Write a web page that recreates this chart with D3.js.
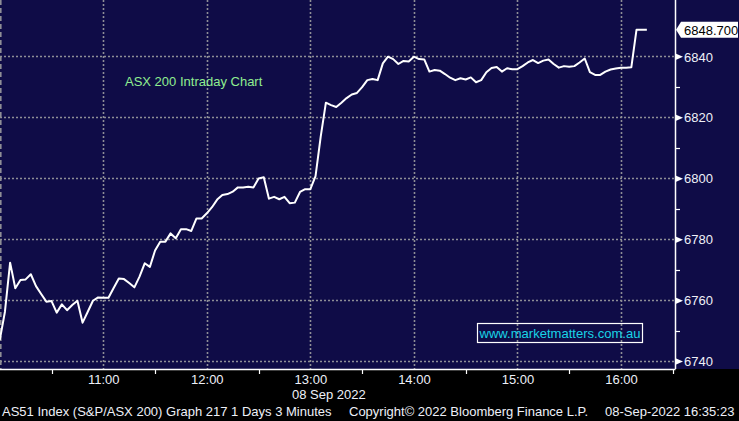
<!DOCTYPE html>
<html>
<head>
<meta charset="utf-8">
<script src="https://cdn.jsdelivr.net/npm/d3@7"></script>
<style>
  html, body { margin: 0; padding: 0; background: #000; }
  svg { display: block; }
  text { font-family: "Liberation Sans", Arial, sans-serif; }
</style>
</head>
<body>
<svg id="chart" width="739" height="421"></svg>
<script>
// ---- data ----
const chartTitle = "ASX 200 Intraday Chart";
const sessionStart = "2022-09-08T10:00:00";
const intervalMinutes = 3;
const prices = [
  6746.9, 6756.2, 6772.3, 6763.9, 6766.6, 6766.8, 6768.5, 6764.6, 6762.0, 6759.5,
  6759.7, 6755.9, 6758.6, 6756.7, 6758.4, 6759.8, 6752.6, 6756.2, 6759.8, 6760.9,
  6760.8, 6760.8, 6764.0, 6767.1, 6766.9, 6765.6, 6764.2, 6767.7, 6772.1, 6770.9,
  6776.3, 6779.2, 6779.2, 6781.9, 6780.3, 6783.3, 6783.3, 6782.7, 6786.8, 6786.8,
  6788.5, 6790.5, 6793.0, 6794.5, 6794.8, 6795.6, 6797.0, 6797.0, 6797.2, 6797.0,
  6799.9, 6800.3, 6793.3, 6793.9, 6793.1, 6793.9, 6791.8, 6792.0, 6795.5, 6796.4,
  6796.4, 6800.7, 6813.7, 6824.8, 6824.0, 6823.4, 6824.8, 6826.3, 6827.5, 6828.0,
  6829.9, 6832.2, 6832.6, 6832.2, 6837.7, 6839.9, 6839.1, 6837.5, 6838.5, 6838.3,
  6839.9, 6839.1, 6839.0, 6835.0, 6835.5, 6835.3, 6834.2, 6833.0, 6832.2, 6832.8,
  6832.4, 6833.1, 6831.5, 6832.2, 6834.8, 6836.2, 6836.5, 6835.0, 6836.1, 6835.8,
  6835.8, 6836.8, 6838.0, 6838.8, 6837.8, 6838.6, 6839.0, 6837.5, 6836.3, 6836.8,
  6836.6, 6836.8, 6838.0, 6839.3, 6834.8, 6833.9, 6833.9, 6835.0, 6835.7, 6836.0,
  6836.3, 6836.3, 6836.4, 6848.7, 6848.7, 6848.7
];
const lastValueLabel = "6848.700";
const yMajorTicks = [6740, 6760, 6780, 6800, 6820, 6840];
const yMinorTicks = [6750, 6770, 6790, 6810, 6830];
const xHourTicks = ["11:00", "12:00", "13:00", "14:00", "15:00", "16:00"];
const xHalfTicks = ["10:30", "11:30", "12:30", "13:30", "14:30", "15:30", "16:30"];
const dateLabel = "08 Sep 2022";
const watermark = "www.marketmatters.com.au";
const footerLeft = "AS51 Index (S&P/ASX 200) Graph 217 1 Days 3 Minutes";
const footerMid = "Copyright\u00A9 2022 Bloomberg Finance L.P.";
const footerRight = "08-Sep-2022 16:35:23";

// ---- build ----
const parseT = d3.timeParse("%Y-%m-%dT%H:%M:%S");
const t0 = parseT(sessionStart);
const day = "2022-09-08T";
const toDate = hm => parseT(day + hm + ":00");
const series = prices.map((v, i) => ({ t: d3.timeMinute.offset(t0, i * intervalMinutes), v }));

const W = 739, H = 421;
const plotR = 675, plotB = 369;
const svg = d3.select("#chart");

const x = d3.scaleTime()
  .domain([toDate("10:00"), parseT(day + "16:31:19")])
  .range([-0.24, plotR]);
const y = d3.scaleLinear().domain([6737.4, 6858.5]).range([plotB, 0]);

// backgrounds
svg.append("rect").attr("width", W).attr("height", H).attr("fill", "#000");
svg.append("rect").attr("width", W).attr("height", plotB).attr("fill", "#0f0c47");

// grid
const gridColor = "#8e8e96";
svg.append("g").selectAll("line").data(yMajorTicks).join("line")
  .attr("x1", 0).attr("x2", plotR)
  .attr("y1", d => Math.round(y(d)) + 0.5).attr("y2", d => Math.round(y(d)) + 0.5)
  .attr("stroke", gridColor).attr("stroke-width", 1.6).attr("stroke-dasharray", "2,2");
svg.append("g").selectAll("line").data(xHourTicks).join("line")
  .attr("x1", d => Math.round(x(toDate(d))) + 0.5).attr("x2", d => Math.round(x(toDate(d))) + 0.5)
  .attr("y1", 0).attr("y2", plotB)
  .attr("stroke", gridColor).attr("stroke-width", 1.6).attr("stroke-dasharray", "2,2");
// left dashed edge
svg.append("line").attr("x1", 0.8).attr("x2", 0.8).attr("y1", 0).attr("y2", plotB)
  .attr("stroke", gridColor).attr("stroke-width", 1.6).attr("stroke-dasharray", "5,3");

// title
svg.append("text").attr("x", 125).attr("y", 86).attr("font-size", 13)
  .attr("fill", "#90ee90").text(chartTitle);

// price line
const line = d3.line().x(d => x(d.t)).y(d => y(d.v));
svg.append("path").datum(series).attr("d", line)
  .attr("fill", "none").attr("stroke", "#ffffff").attr("stroke-width", 2)
  .attr("stroke-linejoin", "round");

// watermark
svg.append("rect").attr("x", 477.5).attr("y", 323.5).attr("width", 165).attr("height", 19)
  .attr("fill", "none").attr("stroke", "#ffffff").attr("stroke-width", 1.2);
svg.append("text").attr("x", 479.5).attr("y", 338).attr("font-size", 13)
  .attr("fill", "#19d3e6").attr("textLength", 161).attr("lengthAdjust", "spacingAndGlyphs")
  .text(watermark);

// x axis
const xAxis = d3.axisBottom(x).tickValues(xHourTicks.map(toDate))
  .tickFormat(d3.timeFormat("%H:%M")).tickSize(0).tickPadding(0);
const gx = svg.append("g").attr("transform", `translate(0,${plotB})`).call(xAxis);
gx.select(".domain").remove();
gx.selectAll("text").attr("font-size", 13).attr("fill", "#eef0f8")
  .attr("font-family", "Liberation Sans, Arial, sans-serif")
  .attr("dy", null).attr("y", 15);
svg.append("line").attr("x1", 0).attr("x2", plotR + 0.5).attr("y1", plotB + 0.5).attr("y2", plotB + 0.5)
  .attr("stroke", "#fff").attr("stroke-width", 1.5);
svg.append("g").selectAll("line").data(xHalfTicks).join("line")
  .attr("x1", d => Math.round(x(toDate(d))) + 0.5).attr("x2", d => Math.round(x(toDate(d))) + 0.5)
  .attr("y1", plotB).attr("y2", plotB + 5).attr("stroke", "#fff").attr("stroke-width", 1.2);
svg.append("text").attr("x", 292).attr("y", 399).attr("font-size", 13).attr("fill", "#eef0f8")
  .text(dateLabel);

// y axis
svg.append("line").attr("x1", plotR + 0.5).attr("x2", plotR + 0.5).attr("y1", 0).attr("y2", plotB)
  .attr("stroke", "#fff").attr("stroke-width", 1.5);
const yAxis = d3.axisRight(y).tickValues(yMajorTicks).tickFormat(d3.format("d"))
  .tickSize(0).tickPadding(9);
const gy = svg.append("g").attr("transform", `translate(${plotR},0)`).call(yAxis);
gy.select(".domain").remove();
gy.selectAll("text").attr("font-size", 13).attr("fill", "#eef0f8")
  .attr("font-family", "Liberation Sans, Arial, sans-serif").attr("dy", "0.36em");
gy.selectAll(".tick").append("path").attr("d", "M0,-3.5L8,0L0,3.5Z").attr("fill", "#fff");
svg.append("g").selectAll("line").data(yMinorTicks).join("line")
  .attr("x1", plotR).attr("x2", plotR + 5)
  .attr("y1", d => Math.round(y(d)) + 0.5).attr("y2", d => Math.round(y(d)) + 0.5)
  .attr("stroke", "#fff").attr("stroke-width", 1.2);

// last value tag
const lastY = y(prices[prices.length - 1]);
svg.append("path")
  .attr("d", `M${plotR + 1},${lastY} L${plotR + 6},${lastY - 8} L${W - 1},${lastY - 8} L${W - 1},${lastY + 8} L${plotR + 6},${lastY + 8} Z`)
  .attr("fill", "#fff");
svg.append("text").attr("x", 684).attr("y", lastY).attr("dy", "0.36em")
  .attr("font-size", 13).attr("fill", "#000").text(lastValueLabel);

// footer
const foot = svg.append("g").attr("font-size", 13).attr("fill", "#eef0f8");
foot.append("text").attr("x", 2).attr("y", 416).text(footerLeft);
foot.append("text").attr("x", 349).attr("y", 416).text(footerMid);
foot.append("text").attr("x", 605).attr("y", 416).text(footerRight);
</script>
</body>
</html>
